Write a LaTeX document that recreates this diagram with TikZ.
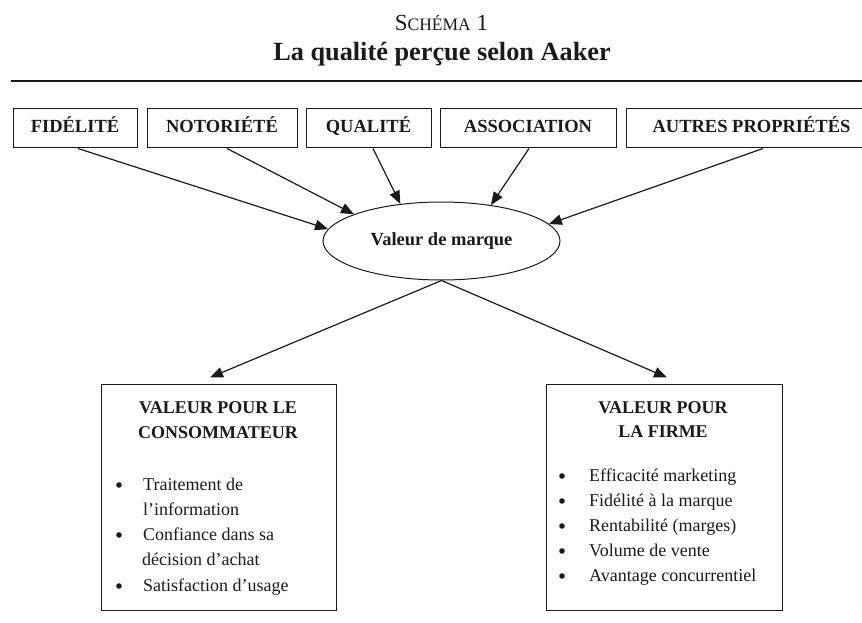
\documentclass[tikz,border=0pt]{standalone}
\usepackage{fontspec}
\setmainfont{Liberation Serif}
\usetikzlibrary{arrows.meta,shapes.geometric}
\definecolor{ink}{HTML}{1A1A1A}
\begin{document}
\begin{tikzpicture}[x=1pt,y=-1pt,
  topbox/.style={draw=ink, line width=1pt, minimum height=39pt, inner sep=0pt,
    font=\fontsize{18.5}{22}\selectfont\bfseries, text=ink, text height=10pt, text depth=3pt},
  bigbox/.style={draw=ink, line width=1pt, minimum height=226pt, inner sep=0pt},
  hdr/.style={anchor=base, inner sep=0pt, font=\fontsize{18}{22}\selectfont\bfseries, text=ink},
  item/.style={anchor=base west, inner sep=0pt, font=\fontsize{18}{22}\selectfont, text=ink},
  bul/.style={circle, fill=ink, inner sep=0pt, minimum size=5.6pt},
  arr/.style={draw=ink, line width=1.2pt, -{Triangle[length=13pt,width=10.5pt]}}
]
\useasboundingbox (0,0) rectangle (862,623);
\clip (0,0) rectangle (862,623);

% title
\node[anchor=base, inner sep=0pt, text=ink] (schema) at (441.5,31)
  {\fontsize{23}{26}\selectfont S\fontsize{17.5}{20}\selectfont CHÉMA\fontsize{23}{26}\selectfont{} 1};
\node[anchor=base, inner sep=0pt, text=ink, font=\fontsize{26.3}{30}\selectfont\bfseries] (title) at (442,61)
  {La qualité perçue selon Aaker};
\draw[ink, line width=2.8pt] (11,81) -- (862,81);

% top boxes
\node[topbox, minimum width=124pt] (fid) at (75,128.5) {FIDÉLITÉ};
\node[topbox, minimum width=150pt] (not) at (222,128.5) {NOTORIÉTÉ};
\node[topbox, minimum width=125pt] (qua) at (368.5,128.5) {QUALITÉ};
\node[topbox, minimum width=176pt] (ass) at (528,128.5) {ASSOCIATION};
\node[topbox, minimum width=251pt] (aut) at (751.5,128.5) {AUTRES PROPRIÉTÉS};

% ellipse
\node[ellipse, draw=ink, line width=1pt, minimum width=237pt, minimum height=78pt, inner sep=0pt,
  font=\fontsize{18.5}{22}\selectfont\bfseries, text=ink] (val) at (441.5,241) {Valeur de marque};

\draw[arr] ([xshift=3pt]fid.south) -- (val.174);
\draw[arr] ([xshift=5pt]not.south) -- (val.163.4);
\draw[arr] ([xshift=4.5pt]qua.south) -- (val.138.9);
\draw[arr] ([xshift=1pt]ass.south) -- (val.36.4);
\draw[arr] ([xshift=11.5pt]aut.south) -- (val.9.3);

% bottom boxes
\node[bigbox, minimum width=235pt] (cons) at (218.5,497) {};
\node[bigbox, minimum width=236pt] (firm) at (664,497) {};

\draw[arr] (val.south) -- ([xshift=-8.5pt,yshift=6pt]cons.north);
\draw[arr] (val.south) -- ([xshift=3pt,yshift=6pt]firm.north);

% left box text
\node[hdr] (c1) at (218,413) {VALEUR POUR LE};
\node[hdr] (c2) at (218,438) {CONSOMMATEUR};
\node[bul] (cb1) at (119,485) {};
\node[item] (ci1) at (143,490) {Traitement de};
\node[item] (ci2) at (143,515) {l’information};
\node[bul] (cb3) at (119,535) {};
\node[item] (ci3) at (143,540) {Confiance dans sa};
\node[item] (ci4) at (142,565) {décision d’achat};
\node[bul] (cb5) at (119,586) {};
\node[item] (ci5) at (143,591) {Satisfaction d’usage};

% right box text
\node[hdr] (f1) at (663,413) {VALEUR POUR};
\node[hdr] (f2) at (663,437) {LA FIRME};
\foreach \t [count=\i] in {Efficacité marketing, Fidélité à la marque, Rentabilité (marges), Volume de vente, Avantage concurrentiel}{
  \node[bul] (fb\i) at (562,{476+25*(\i-1)}) {};
  \node[item] (fi\i) at (589,{481+25*(\i-1)}) {\t};
}
\end{tikzpicture}
\end{document}
